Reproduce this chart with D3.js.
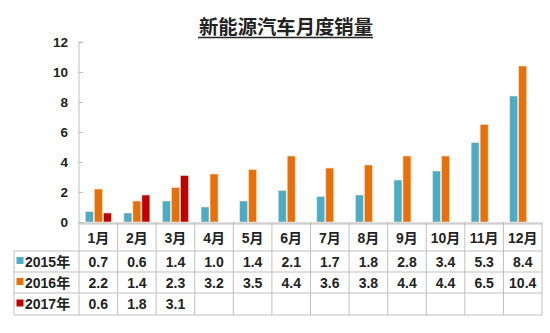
<!DOCTYPE html>
<html><head><meta charset="utf-8">
<script src="https://cdn.jsdelivr.net/npm/d3@7"></script>
<style>
body{margin:0;background:#fff;}
text{font-family:"Liberation Sans",Arial,"Noto Sans CJK SC",sans-serif;}
</style></head>
<body><svg id="c" width="550" height="333"></svg>
<script>
const months = ["1月","2月","3月","4月","5月","6月","7月","8月","9月","10月","11月","12月"];
const seriesNames = ["2015年","2016年","2017年"];
const s2015 = [0.7,0.6,1.4,1.0,1.4,2.1,1.7,1.8,2.8,3.4,5.3,8.4];
const s2016 = [2.2,1.4,2.3,3.2,3.5,4.4,3.6,3.8,4.4,4.4,6.5,10.4];
const s2017 = [0.6,1.8,3.1];
const yTicks = [0,2,4,6,8,10,12];
const colors = ["#4bacc6","#e8700a","#c00000"];
const title = "新能源汽车月度销量";

(function(){
const series = [s2015,s2016,s2017];
const svg = d3.select("#c");
const pL = 79, pR = 542, pT = 42, base = 222;
const x = d3.scaleBand().domain(months).range([pL,pR]);
const y = d3.scaleLinear().domain([0,12]).range([base,pT]);
const grey = "#bfbfbf";

// title
svg.append("text").attr("x",286).attr("y",34).attr("text-anchor","middle")
  .attr("font-size",19).attr("font-weight","bold").attr("fill","#222")
  .attr("textLength",174).attr("lengthAdjust","spacingAndGlyphs")
  .style("font-family","'Noto Sans CJK SC',sans-serif").text(title);
svg.append("line").attr("x1",198).attr("x2",373).attr("y1",37.5).attr("y2",37.5).attr("stroke","#222").attr("stroke-width",1.3);

// y axis
const yAxis = d3.axisRight(y).tickValues(yTicks).tickSize(4).tickFormat("");
const ga = svg.append("g").attr("transform",`translate(${pL},0)`).call(yAxis);
ga.select(".domain").attr("stroke",grey).attr("d",`M4,${pT}H0V${base}`);
ga.selectAll(".tick line").attr("stroke",grey);
svg.selectAll(".ylab").data(yTicks).enter().append("text")
  .attr("x",68).attr("y",d=>y(d)+5).attr("text-anchor","end")
  .attr("font-size",13.5).attr("font-weight","bold").attr("fill","#222").text(d=>d);

// bars
const bw = 8, step = 9;
series.forEach((s,i)=>{
  svg.append("g").selectAll("rect").data(s).enter().append("rect")
    .attr("x",(d,j)=>x(months[j])+x.bandwidth()/2-13+i*step)
    .attr("y",d=>y(d)).attr("width",bw).attr("height",d=>base-y(d))
    .attr("fill",colors[i]).attr("stroke","#fbe3d0").attr("stroke-width",0.6);
});

// table
const rowY = [224,251,272,293,315];
const tl = 14;
const g = svg.append("g").attr("stroke",grey).attr("stroke-width",1);
g.append("line").attr("x1",pL).attr("x2",pR).attr("y1",base+1).attr("y2",base+1);
g.append("line").attr("x1",pL).attr("x2",pR).attr("y1",rowY[0]).attr("y2",rowY[0]);
for(let r=1;r<rowY.length;r++){
  g.append("line").attr("x1",tl).attr("x2",pR).attr("y1",rowY[r]).attr("y2",rowY[r]);
}
g.append("line").attr("x1",tl).attr("x2",tl).attr("y1",rowY[1]).attr("y2",rowY[4]);
months.forEach(m=>{
  g.append("line").attr("x1",x(m)).attr("x2",x(m)).attr("y1",base).attr("y2",rowY[4]);
});
g.append("line").attr("x1",pR).attr("x2",pR).attr("y1",base).attr("y2",rowY[4]);

const txt = (xx,yy,s,anchor)=>svg.append("text").attr("x",xx).attr("y",yy)
  .attr("text-anchor",anchor||"middle").attr("font-size",14).attr("font-weight","bold")
  .attr("fill","#222").text(s);
months.forEach(m=>txt(x(m)+x.bandwidth()/2,243,m));
series.forEach((s,i)=>{
  const cy = (rowY[i+1]+rowY[i+2])/2 + 5;
  svg.append("rect").attr("x",16.5).attr("y",cy-9.5).attr("width",7).attr("height",7).attr("fill",colors[i]);
  txt(25,cy,seriesNames[i],"start");
  s.forEach((v,j)=>txt(x(months[j])+x.bandwidth()/2,cy,v.toFixed(1)));
});
})();
</script></body></html>
